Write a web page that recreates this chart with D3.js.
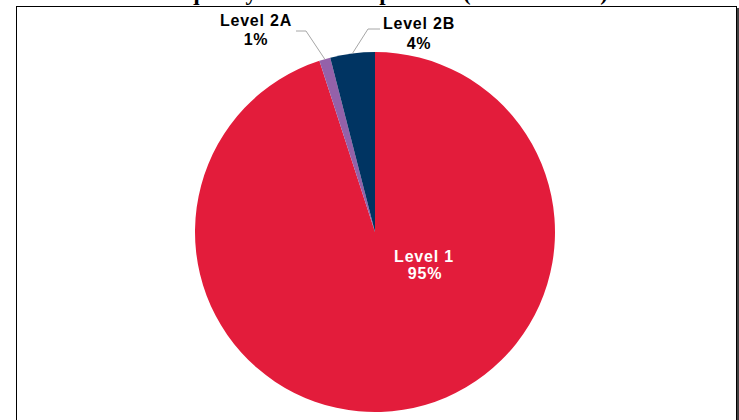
<!DOCTYPE html>
<html>
<head>
<meta charset="utf-8">
<script src="https://cdn.jsdelivr.net/npm/d3@7"></script>
<style>
  html, body { margin: 0; padding: 0; background: #fff; }
  svg { display: block; }
</style>
</head>
<body>
<svg id="chart" width="739" height="420"></svg>
<script>
// Liquidity buffer composition, share of total (%)
const categories = ["Level 1", "Level 2A", "Level 2B"];
const shares = [95, 1, 4];
const sliceColors = ["#E31C3B", "#9461A9", "#003462"];
const titleText = "Exhibit 3: Liquidity Buffer Composition (USD millions)";

const W = 739, H = 420;
const svg = d3.select("#chart");

// Title (sits mostly above the visible area)
svg.append("text")
  .attr("x", 608).attr("y", 0)
  .attr("text-anchor", "end")
  .attr("font-family", "'Liberation Serif', 'Times New Roman', serif")
  .attr("font-weight", "bold")
  .attr("font-size", 23)
  .attr("fill", "#000")
  .text(titleText);

// Chart frame with a slight right-edge shadow
svg.append("rect")
  .attr("x", 16.5).attr("y", 6.5)
  .attr("width", 720).attr("height", 430)
  .attr("fill", "none").attr("stroke", "#000").attr("stroke-width", 1);
svg.append("line")
  .attr("x1", 738).attr("x2", 738).attr("y1", 8).attr("y2", H)
  .attr("stroke", "#000").attr("stroke-width", 1.5);

const cx = 375, cy = 232, r = 180;
const g = svg.append("g").attr("transform", `translate(${cx},${cy})`);

const data = categories.map((c, i) => ({ name: c, value: shares[i], color: sliceColors[i] }));
const pie = d3.pie().value(d => d.value).sort(null);
const arcs = pie(data);
const arc = d3.arc().innerRadius(0).outerRadius(r);

g.selectAll("path.slice")
  .data(arcs)
  .join("path")
  .attr("class", "slice")
  .attr("d", arc)
  .attr("fill", d => d.data.color);

const labelFont = "'Liberation Sans', Arial, sans-serif";

// Inside label for the large slice
const inner = arcs[0];
const innerLabel = g.append("text")
  .attr("text-anchor", "middle")
  .attr("font-family", labelFont)
  .attr("font-weight", "bold")
  .attr("font-size", 16)
  .attr("letter-spacing", 0.8)
  .attr("fill", "#fff");
innerLabel.append("tspan").attr("x", 424 - cx).attr("y", 262 - cy).text(inner.data.name);
innerLabel.append("tspan").attr("x", 425 - cx).attr("y", 279 - cy).text(inner.data.value + "%");

// Outside labels with leader lines for the small slices
const outside = [
  { d: arcs[1], lx: 256, ly1: 26, ly2: 45, elbow: [[296, 31], [306, 31]] },
  { d: arcs[2], lx: 419, ly1: 29, ly2: 49, elbow: [[380, 29], [368, 29]] }
];
const mid = d => (d.startAngle + d.endAngle) / 2;

outside.forEach(o => {
  const a = mid(o.d);
  const ex = cx + r * Math.sin(a), ey = cy - r * Math.cos(a);
  svg.append("polyline")
    .attr("points", [...o.elbow, [ex, ey]].map(p => p.join(",")).join(" "))
    .attr("fill", "none").attr("stroke", "#A6A6A6").attr("stroke-width", 1);
  const t = svg.append("text")
    .attr("text-anchor", "middle")
    .attr("font-family", labelFont)
    .attr("font-weight", "bold")
    .attr("font-size", 16)
    .attr("letter-spacing", 0.8)
    .attr("fill", "#000");
  t.append("tspan").attr("x", o.lx).attr("y", o.ly1).text(o.d.data.name);
  t.append("tspan").attr("x", o.lx).attr("y", o.ly2).text(o.d.data.value + "%");
});
</script>
</body>
</html>
